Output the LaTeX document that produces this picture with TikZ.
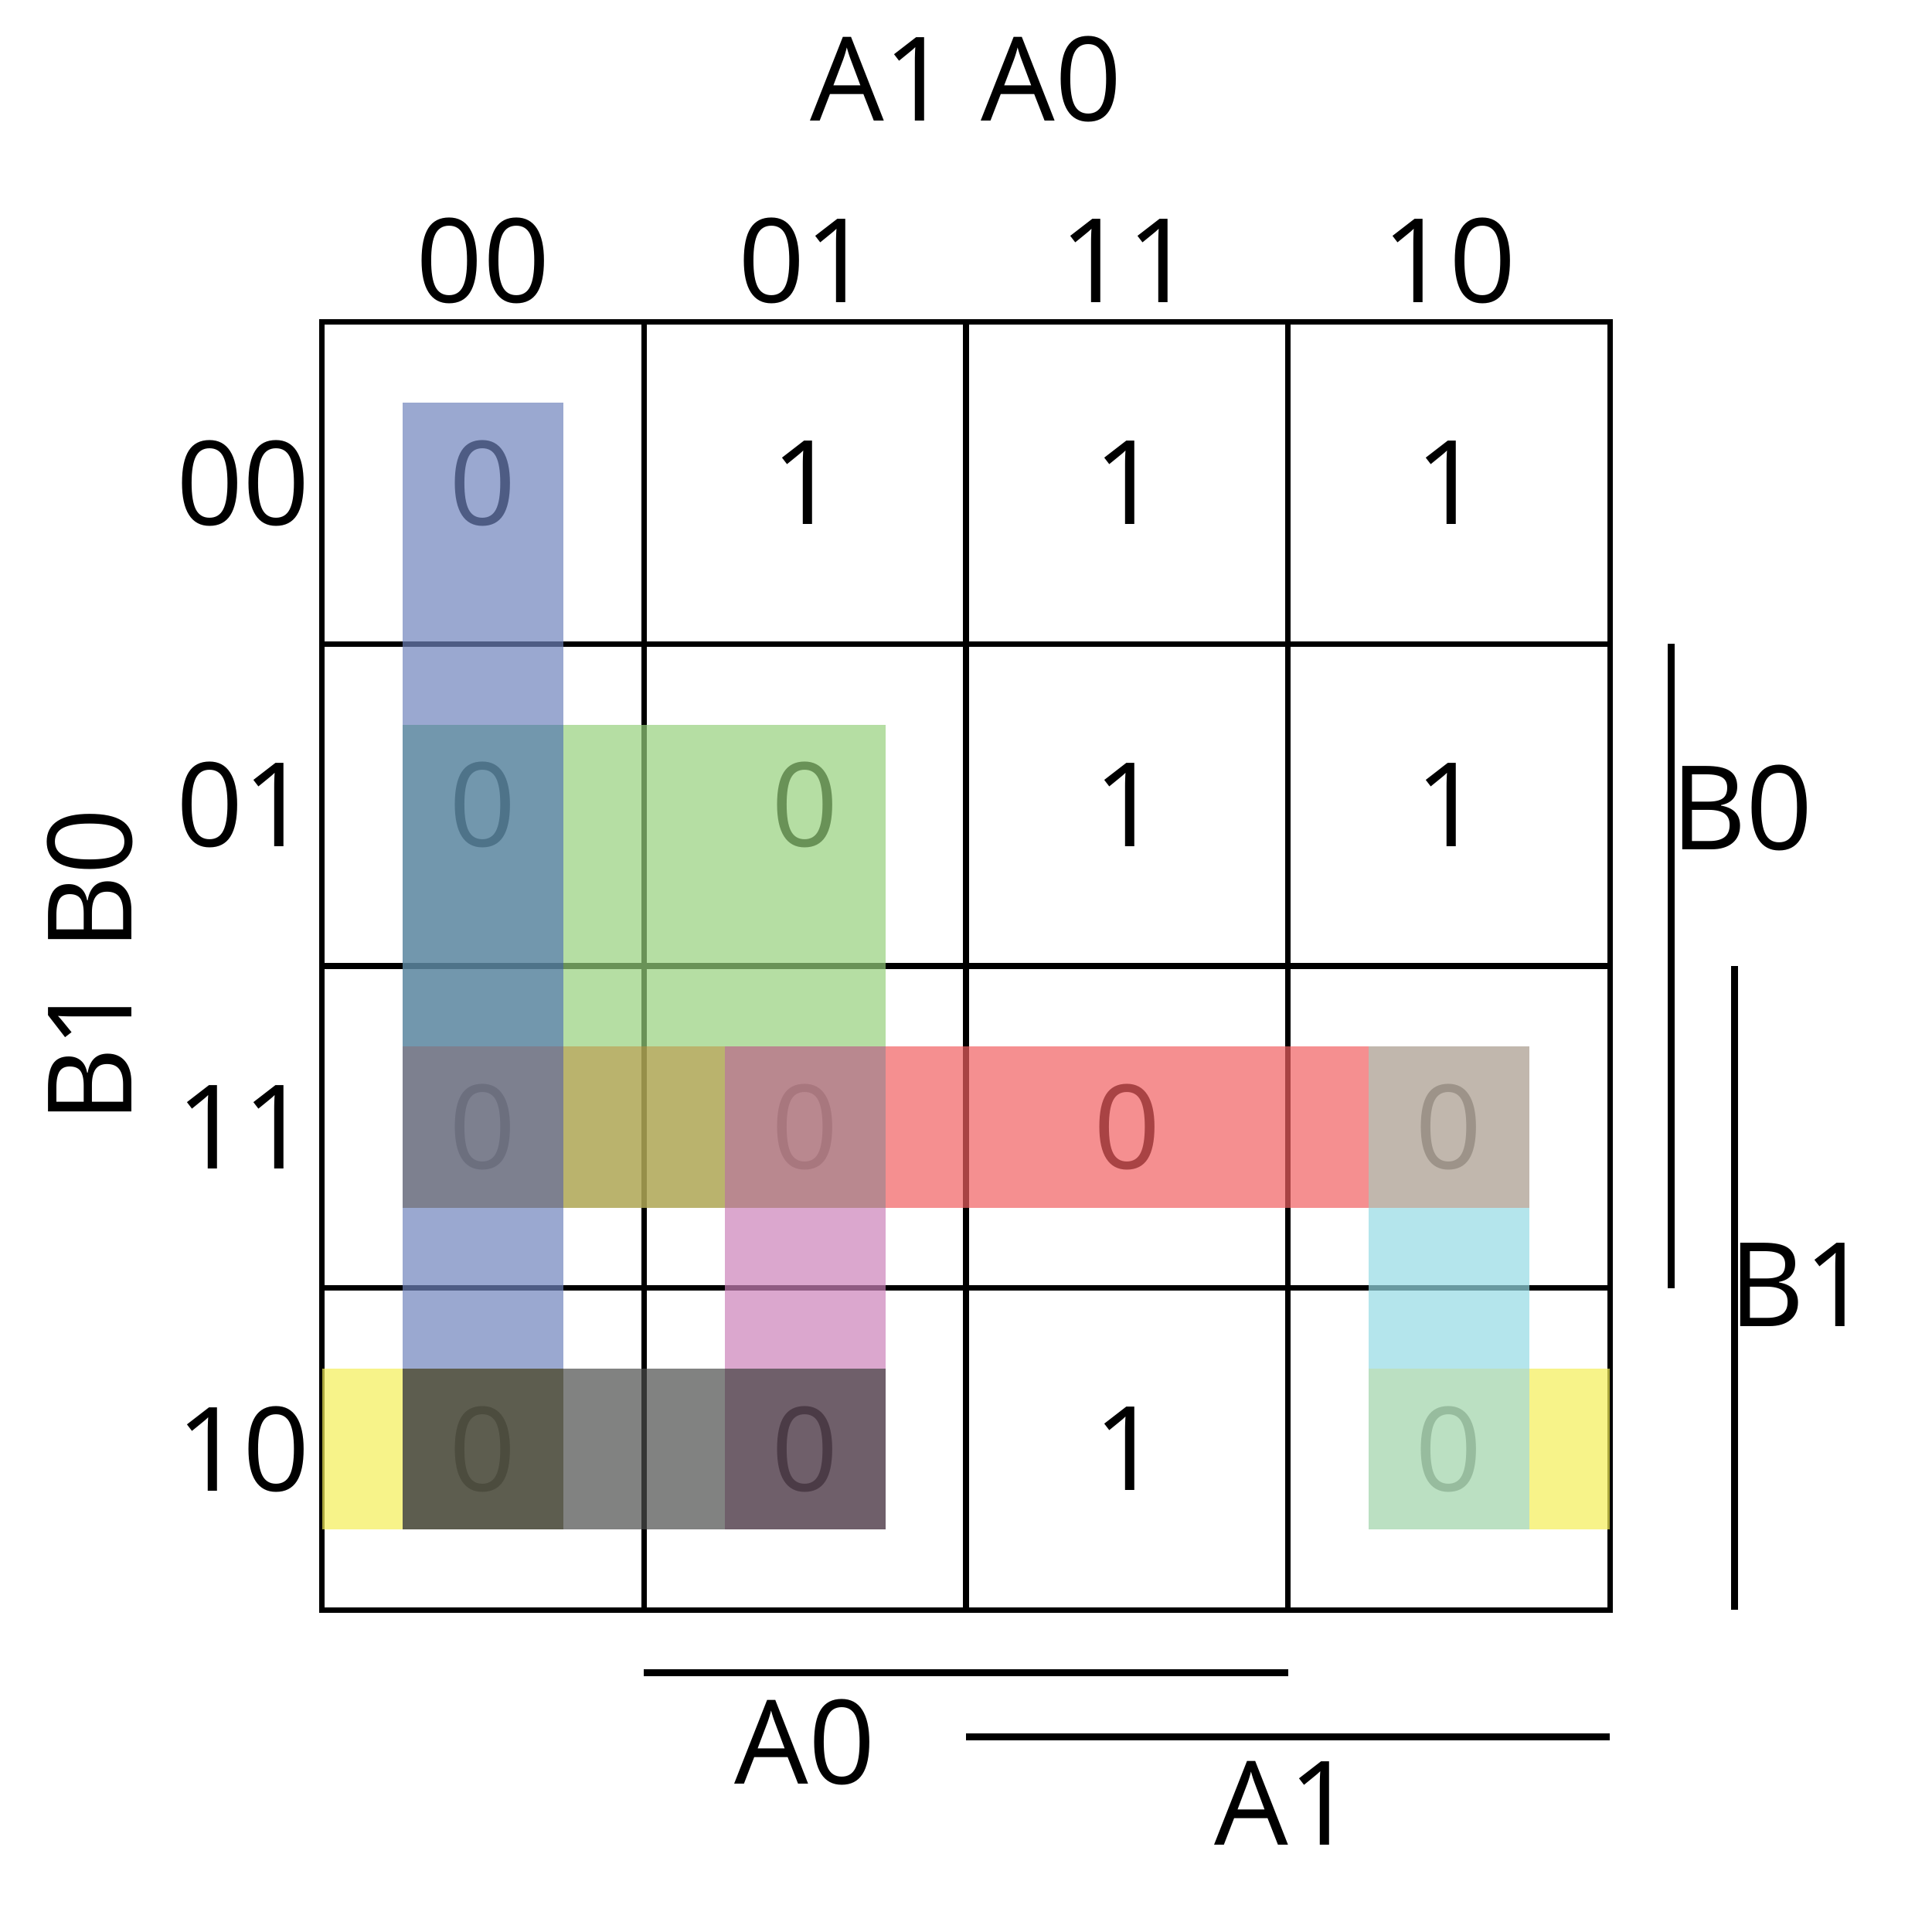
\documentclass[tikz,border=0pt]{standalone}
\usepackage{fontspec}
\setmainfont{Open Sans}
\definecolor{cBlue}{RGB}{112,132,189}
\definecolor{cBlueGreen}{RGB}{91,134,160}
\definecolor{cGreen}{RGB}{151,208,125}
\definecolor{cGrayBlue}{RGB}{116,119,136}
\definecolor{cOlive}{RGB}{175,167,85}
\definecolor{cMauve}{RGB}{181,128,136}
\definecolor{cRed}{RGB}{241,96,97}
\definecolor{cTan}{RGB}{183,172,160}
\definecolor{cPink}{RGB}{204,131,186}
\definecolor{cCyan}{RGB}{149,219,228}
\definecolor{cYellow}{RGB}{244,238,88}
\definecolor{cDarkOlive}{RGB}{82,82,67}
\definecolor{cGray}{RGB}{76,78,76}
\definecolor{cDarkMauve}{RGB}{88,69,82}
\definecolor{cLightGreen}{RGB}{176,219,184}
\begin{document}
\begin{tikzpicture}[x=4.16667cm,y=-4.16667cm,
  lbl/.style={font=\fontsize{43}{50}\selectfont, inner sep=0pt},
  gridline/.style={line width=2pt, black},
  bar/.style={line width=2.4pt, black},
  one/.style={fill opacity=0.7},
  two/.style={fill opacity=0.86},
  three/.style={fill opacity=0.935}]
\useasboundingbox (-1,-1) rectangle (5,5);
\fill[white] (-1,-1) rectangle (5,5);

% grid
\draw[gridline] (0,0) rectangle (4,4);
\foreach \i in {1,2,3} {
  \draw[gridline] (\i,0) -- (\i,4);
  \draw[gridline] (0,\i) -- (4,\i);
}

% headers
\node[lbl] (hdrA) at (2,-0.755) {A1 A0};
\node[lbl,rotate=90] (hdrB) at (-0.72,2) {B1 B0};
\foreach \t [count=\k from 0] in {00,01,11,10} {
  \node[lbl] (col\k) at (\k+0.5,-0.19) {\t};
  \node[lbl] (row\k) at (-0.245,\k+0.5) {\t};
}

% cell values
\foreach \v [count=\k from 0] in {0,1,1,1, 0,0,1,1, 0,0,0,0, 0,0,1,0} {
  \pgfmathtruncatemacro{\r}{int(\k/4)}
  \pgfmathtruncatemacro{\c}{mod(\k,4)}
  \node[lbl] (v\r\c) at (\c+0.5,\r+0.5) {\v};
}

% side bars and labels
\coordinate (b0s) at (4.19,1);
\coordinate (b0e) at (4.19,3);
\coordinate (b1s) at (4.387,2);
\coordinate (b1e) at (4.387,4);
\coordinate (a0s) at (1,4.195);
\coordinate (a0e) at (3,4.195);
\coordinate (a1s) at (2,4.394);
\coordinate (a1e) at (4,4.394);
\draw[bar] (b0s) -- (b0e);
\draw[bar] (b1s) -- (b1e);
\draw[bar] (a0s) -- (a0e);
\draw[bar] (a1s) -- (a1e);
\node[lbl] (lB0) at (4.41,1.51) {B0};
\node[lbl] (lB1) at (4.59,2.99) {B1};
\node[lbl] (lA0) at (1.5,4.41) {A0};
\node[lbl] (lA1) at (2.99,4.6) {A1};

% grouping patches (transparent, over grid and text)
\fill[one,cBlue] (0.25,0.25) rectangle (0.75,1.25);
\fill[two,cBlueGreen] (0.25,1.25) rectangle (0.75,2.25);
\fill[one,cGreen] (0.75,1.25) rectangle (1.75,2.25);
\fill[three,cGrayBlue] (0.25,2.25) rectangle (0.75,2.75);
\fill[two,cOlive] (0.75,2.25) rectangle (1.25,2.75);
\fill[three,cMauve] (1.25,2.25) rectangle (1.75,2.75);
\fill[one,cRed] (1.75,2.25) rectangle (3.25,2.75);
\fill[two,cTan] (3.25,2.25) rectangle (3.75,2.75);
\fill[one,cBlue] (0.25,2.75) rectangle (0.75,3.25);
\fill[one,cPink] (1.25,2.75) rectangle (1.75,3.25);
\fill[one,cCyan] (3.25,2.75) rectangle (3.75,3.25);
\fill[one,cYellow] (0,3.25) rectangle (0.25,3.75);
\fill[three,cDarkOlive] (0.25,3.25) rectangle (0.75,3.75);
\fill[one,cGray] (0.75,3.25) rectangle (1.25,3.75);
\fill[two,cDarkMauve] (1.25,3.25) rectangle (1.75,3.75);
\fill[two,cLightGreen] (3.25,3.25) rectangle (3.75,3.75);
\fill[one,cYellow] (3.75,3.25) rectangle (4,3.75);
\end{tikzpicture}
\end{document}
